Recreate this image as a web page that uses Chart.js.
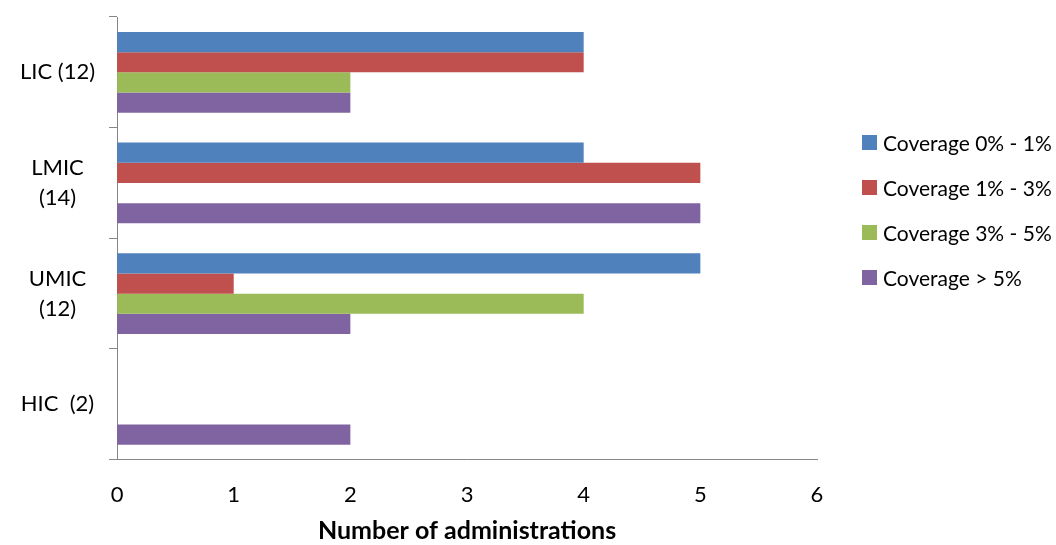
<!DOCTYPE html>
<html>
<head>
<meta charset="utf-8">
<script src="https://cdn.jsdelivr.net/npm/chart.js@4"></script>
<style>
    body { margin: 0; background: #fff; }
    #wrap { position: relative; width: 1056px; height: 545px; }
    #legend { position: absolute; left: 862px; top: 130px; font-family: Lato, sans-serif; font-size: 21px; line-height: 25px; color: #000; }
    .item { height: 45px; display: flex; align-items: flex-start; }
    .swatch { width: 15px; height: 15px; margin-right: 6px; margin-top: 5px; }
</style>
</head>
<body>
<div id="wrap">
    <canvas id="chart"></canvas>
    <div id="legend"></div>
</div>
<script>
// Categories (income groups) and bar values per coverage band
const categories = [['LIC (12)'], ['LMIC', '(14)'], ['UMIC', '(12)'], ['HIC  (2)']];
const seriesNames = ['Coverage 0% - 1%', 'Coverage 1% - 3%', 'Coverage 3% - 5%', 'Coverage > 5%'];
const coverage0to1 = [4, 4, 5, 0];
const coverage1to3 = [4, 5, 1, 0];
const coverage3to5 = [2, 0, 4, 0];
const coverageOver5 = [2, 5, 2, 2];
const xTicks = [0, 1, 2, 3, 4, 5, 6];
const colors = ['#4F81BD', '#C0504D', '#9BBB59', '#8064A2'];

const seriesValues = [coverage0to1, coverage1to3, coverage3to5, coverageOver5];
const axisGrey = '#868686';

const datasets = seriesValues.map((vals, i) => ({
    label: seriesNames[i],
    data: vals,
    backgroundColor: colors[i],
    borderWidth: 0,
    categoryPercentage: 0.73,
    barPercentage: 1.0
}));

new Chart(document.getElementById('chart').getContext('2d'), {
    type: 'bar',
    data: { labels: categories, datasets: datasets },
    options: {
        indexAxis: 'y',
        responsive: true,
        maintainAspectRatio: false,
        animation: false,
        layout: { padding: { top: 17, right: 239, bottom: 2, left: 6 } },
        scales: {
            x: {
                min: 0,
                max: 6,
                afterBuildTicks: axis => { axis.ticks = xTicks.map(v => ({ value: v })); },
                // fit() reserves tick padding twice, take one back
                afterFit: scale => { scale.height -= scale.options.ticks.padding; },
                grid: { display: false, drawTicks: false },
                border: { display: true, color: axisGrey, width: 1 },
                ticks: { color: '#000', padding: 22, font: { family: 'Lato', size: 22, lineHeight: 1.2 } },
                title: {
                    display: true,
                    text: 'Number of administrations',
                    color: '#000',
                    padding: { top: 10, bottom: 0 },
                    font: { family: 'Lato', size: 25, weight: 'bold', lineHeight: 1.0 }
                }
            },
            y: {
                // labels sit in the middle of each band, so no overflow padding needed
                afterFit: scale => { scale.paddingTop = 0; scale.paddingBottom = 0; },
                grid: { display: true, drawOnChartArea: false, drawTicks: true, tickLength: 8, color: axisGrey, offset: true },
                border: { display: true, color: axisGrey, width: 1 },
                ticks: {
                    color: '#000',
                    padding: 14,
                    crossAlign: 'center',
                    font: { family: 'Lato', size: 22, lineHeight: 1.36 }
                }
            }
        },
        plugins: {
            legend: { display: false },
            tooltip: { enabled: false }
        }
    }
});

// Legend on the right, built from the same series arrays
const legendEl = document.getElementById('legend');
seriesNames.forEach((name, i) => {
    const row = document.createElement('div');
    row.className = 'item';
    const sw = document.createElement('span');
    sw.className = 'swatch';
    sw.style.background = colors[i];
    const txt = document.createElement('span');
    txt.textContent = name;
    row.appendChild(sw);
    row.appendChild(txt);
    legendEl.appendChild(row);
});
</script>
</body>
</html>
